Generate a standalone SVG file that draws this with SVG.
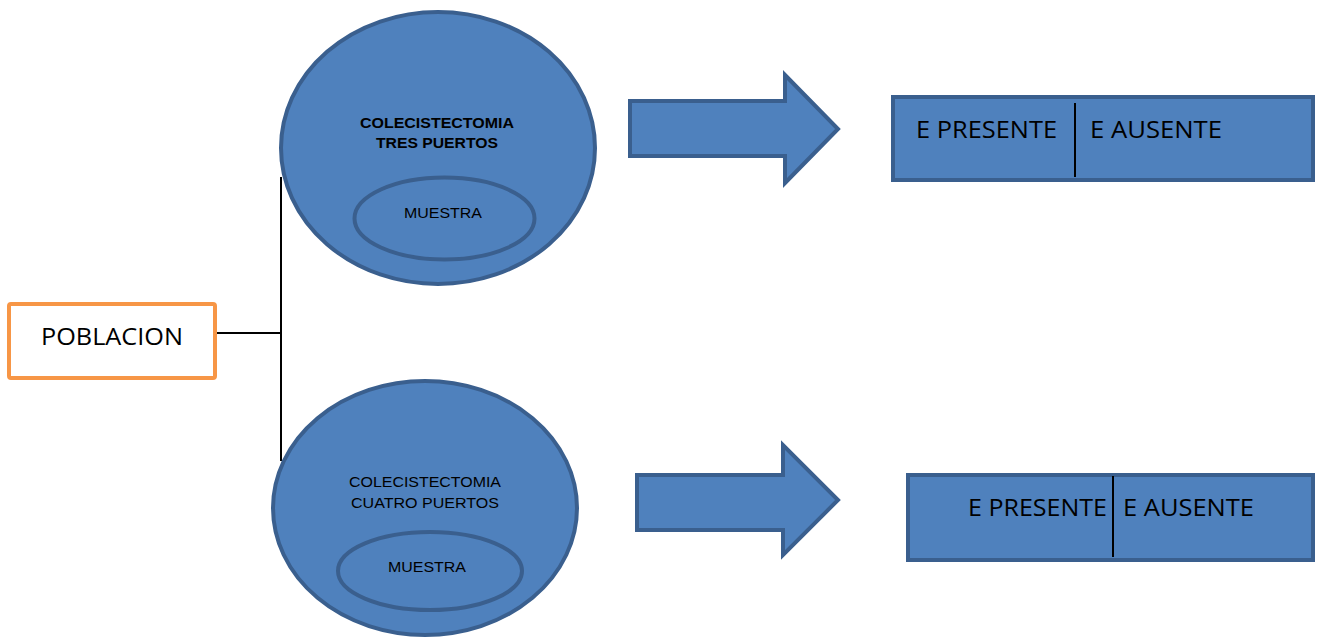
<svg xmlns="http://www.w3.org/2000/svg" width="1320" height="639" viewBox="0 0 1320 639">
<style>
.shape{fill:#4f81bd;stroke:#3a5f8e;stroke-width:4}
.conn{stroke:#000;stroke-width:2;fill:none}
.lbl{font-family:"Liberation Sans",Arial,sans-serif;fill:#000;text-anchor:middle;font-size:15px}
.big{font-family:"Open Sans","Liberation Sans",sans-serif;font-size:23px;fill:#000}
</style>
<rect width="1320" height="639" fill="#fff"/>
<g id="connectors">
<line class="conn" x1="216" y1="333" x2="281" y2="333"/>
<line class="conn" x1="281" y1="177" x2="281" y2="461"/>
</g>
<g id="poblacion">
<rect x="9" y="304" width="206" height="74" rx="2" fill="#fff" stroke="#f79646" stroke-width="4"/>
<text class="big" x="112" y="345" text-anchor="middle" textLength="142" lengthAdjust="spacingAndGlyphs">POBLACION</text>
</g>
<g id="tres-puertos">
<ellipse class="shape" cx="438" cy="148" rx="157" ry="136"/>
<text class="lbl" x="437" y="128" font-weight="bold" textLength="154" lengthAdjust="spacingAndGlyphs">COLECISTECTOMIA</text>
<text class="lbl" x="437" y="148" font-weight="bold" textLength="122" lengthAdjust="spacingAndGlyphs">TRES PUERTOS</text>
<ellipse class="shape" cx="444.5" cy="218.5" rx="90" ry="41"/>
<text class="lbl" x="443" y="218" textLength="78" lengthAdjust="spacingAndGlyphs">MUESTRA</text>
</g>
<g id="cuatro-puertos">
<ellipse class="shape" cx="425" cy="508" rx="152" ry="127"/>
<text class="lbl" x="425" y="487" textLength="152" lengthAdjust="spacingAndGlyphs">COLECISTECTOMIA</text>
<text class="lbl" x="425" y="508" textLength="148" lengthAdjust="spacingAndGlyphs">CUATRO PUERTOS</text>
<ellipse class="shape" cx="430" cy="571" rx="92" ry="39"/>
<text class="lbl" x="427" y="572" textLength="78" lengthAdjust="spacingAndGlyphs">MUESTRA</text>
</g>
<g id="arrow-top">
<polygon class="shape" points="630,101 785,101 785,75 838,129 785,183 785,156 630,156"/>
</g>
<g id="arrow-bottom">
<polygon class="shape" points="637,475 783,475 783,445 838,500 783,555 783,530 637,530"/>
</g>
<g id="result-top">
<rect class="shape" x="893" y="97" width="420" height="83"/>
<line x1="1075" y1="103" x2="1075" y2="177" stroke="#000" stroke-width="2"/>
<text class="big" x="916" y="138" textLength="141" lengthAdjust="spacingAndGlyphs">E PRESENTE</text>
<text class="big" x="1090" y="138" textLength="132" lengthAdjust="spacingAndGlyphs">E AUSENTE</text>
</g>
<g id="result-bottom">
<rect class="shape" x="908" y="475" width="405" height="85"/>
<line x1="1113" y1="476" x2="1113" y2="557" stroke="#000" stroke-width="2"/>
<text class="big" x="968" y="516" textLength="139" lengthAdjust="spacingAndGlyphs">E PRESENTE</text>
<text class="big" x="1123" y="516" textLength="131" lengthAdjust="spacingAndGlyphs">E AUSENTE</text>
</g>
</svg>
